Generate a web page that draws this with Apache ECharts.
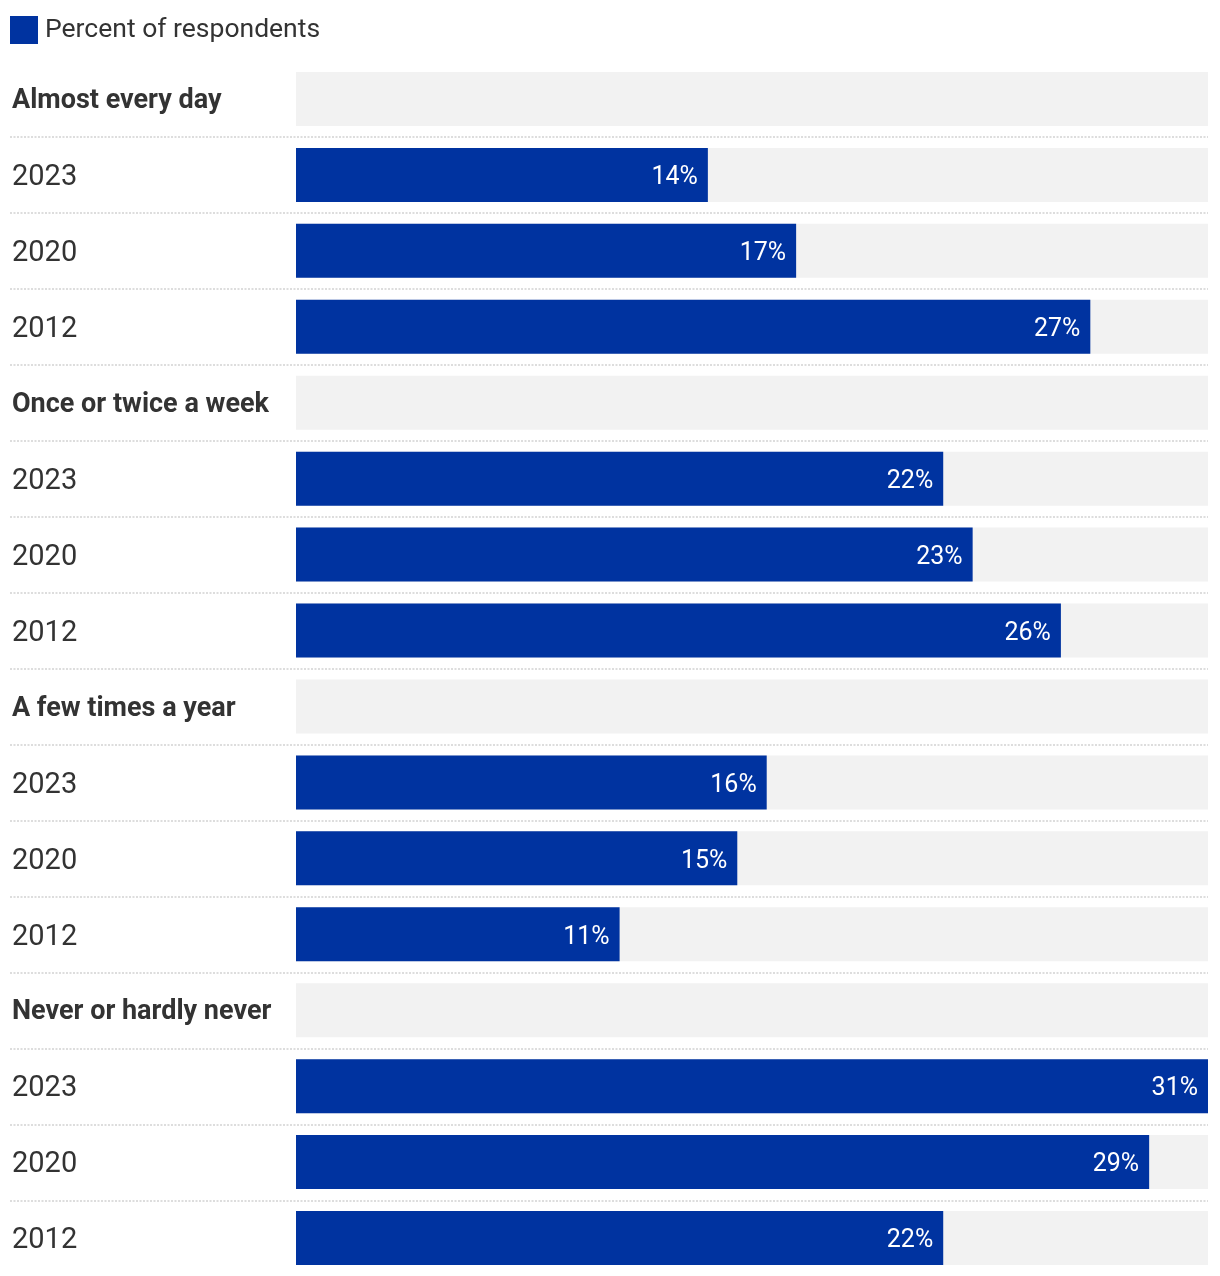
<!DOCTYPE html>
<html>
<head>
<meta charset="utf-8">
<script src="https://cdn.jsdelivr.net/npm/echarts@6/dist/echarts.min.js"></script>
<style>
html,body{margin:0;padding:0;background:#fff;}
#chart{width:1220px;height:1276px;}
</style>
</head>
<body>
<div id="chart"></div>
<script>
const seriesName = 'Percent of respondents';
const groups = ['Almost every day', 'Once or twice a week', 'A few times a year', 'Never or hardly never'];
const years = ['2023', '2020', '2012'];
const almostEveryDay = [14, 17, 27];
const onceOrTwiceAWeek = [22, 23, 26];
const aFewTimesAYear = [16, 15, 11];
const neverOrHardlyNever = [31, 29, 22];
const axisMax = 31;

const groupValues = [almostEveryDay, onceOrTwiceAWeek, aFewTimesAYear, neverOrHardlyNever];
const categories = [];
const isHeader = [];
const values = [];
groups.forEach((g, gi) => {
  categories.push(g); isHeader.push(true); values.push('-');
  years.forEach((y, yi) => {
    categories.push(y); isHeader.push(false); values.push(groupValues[gi][yi]);
  });
});
const background = categories.map(() => axisMax);

const BLUE = '#0033a0';
const FONT = 'Roboto, "Liberation Sans", sans-serif';
// bars start at x=296 inside a grid that starts at x=10 (so separator lines span full width)
const gridLeft = 10, gridRight = 12, barStart = 296;
const gridTop = 61, band = 76;
const barAreaWidth = 1220 - gridRight - barStart;
const xMin = -(barStart - gridLeft) * axisMax / barAreaWidth;
const nInner = categories.length - 2; // separators between rows

const chart = echarts.init(document.getElementById('chart'));
chart.setOption({
  animation: false,
  textStyle: { fontFamily: FONT },
  legend: {
    data: [seriesName],
    left: 10, top: 16,
    padding: 0,
    itemWidth: 28, itemHeight: 28,
    icon: 'rect',
    textStyle: { fontSize: 26.5, color: '#333', fontFamily: FONT, padding: [3, 0, 0, 2] }
  },
  grid: [
    { left: gridLeft, right: gridRight, top: gridTop, height: band * categories.length },
    { left: gridLeft, right: gridRight, top: gridTop + band, height: band * nInner }
  ],
  xAxis: [
    { type: 'value', gridIndex: 0, min: xMin, max: axisMax, show: false },
    { type: 'value', gridIndex: 1, min: 0, max: 1, show: false }
  ],
  yAxis: [
    {
      type: 'category',
      gridIndex: 0,
      data: categories,
      inverse: true,
      axisLine: { show: false },
      axisTick: { show: false },
      splitLine: { show: false },
      axisLabel: {
        inside: true,
        margin: 2,
        formatter: (v, i) => isHeader[i] ? '{h|' + v + '}' : '{y|' + v + '}',
        rich: {
          h: { fontSize: 27, fontWeight: 'bold', color: '#333', fontFamily: FONT, padding: [5, 0, 0, 0] },
          y: { fontSize: 29, color: '#333', fontFamily: FONT, padding: [6, 0, 0, 0] }
        }
      }
    },
    {
      type: 'value',
      gridIndex: 1,
      min: 0,
      max: nInner,
      interval: 1,
      inverse: true,
      axisLine: { show: false },
      axisTick: { show: false },
      axisLabel: { show: false },
      splitLine: {
        show: true,
        lineStyle: { color: '#d2d2d2', width: 1.5, type: [2, 1.5] }
      }
    }
  ],
  series: [
    {
      type: 'bar',
      name: 'bg',
      data: background,
      barWidth: 54,
      barGap: '-100%',
      silent: true,
      itemStyle: { color: '#f2f2f2' }
    },
    {
      type: 'bar',
      name: seriesName,
      data: values,
      barWidth: 54,
      barGap: '-100%',
      itemStyle: { color: BLUE },
      label: {
        show: true,
        position: 'insideRight',
        distance: 10,
        offset: [0, 3],
        formatter: '{c}%',
        color: '#fff',
        fontSize: 25,
        fontFamily: FONT
      }
    }
  ]
});
</script>
</body>
</html>
